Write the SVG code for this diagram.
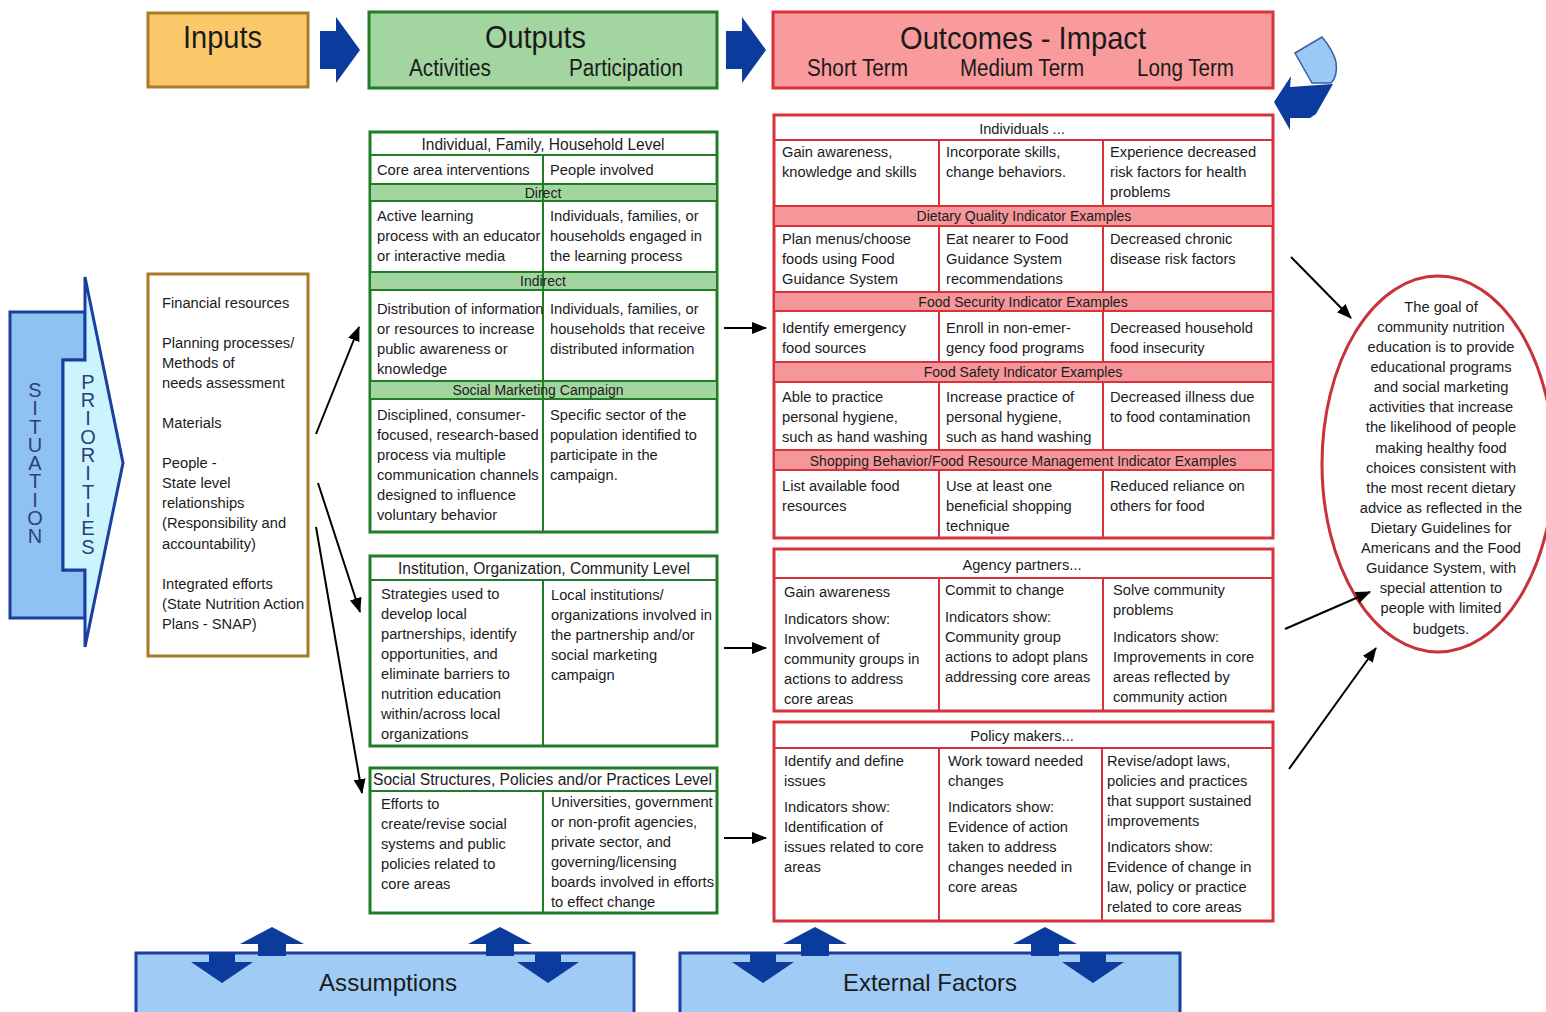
<svg xmlns="http://www.w3.org/2000/svg" width="1546" height="1012" viewBox="0 0 1546 1012">
<defs>
<style>
text{font-family:"Liberation Sans",Arial,sans-serif;fill:#1b1b1b}
.b{font-size:14.7px}
.c{text-anchor:middle}
.hd{font-size:32px}
.sh{font-size:23px}
.ti{font-size:16px}
.bd{font-size:14px}
.vert{font-size:20px;fill:#2f3f78;text-anchor:middle;writing-mode:vertical-rl;text-orientation:upright}
.gbox{fill:#fff;stroke:#1f7d24;stroke-width:3}
.gl{stroke:#1f7d24;stroke-width:2;fill:none}
.gband{fill:#a3d5a0;stroke:#1f7d24;stroke-width:2}
.rbox{fill:#fff;stroke:#d8323a;stroke-width:3}
.rl{stroke:#d8323a;stroke-width:2;fill:none}
.rband{fill:#f5969a;stroke:#d8323a;stroke-width:2}
.navy{fill:#0b3c9d}
.con{stroke:#000;stroke-width:2;fill:none;marker-end:url(#ah)}
</style>
<marker id="ah" markerUnits="userSpaceOnUse" markerWidth="16" markerHeight="14" refX="14" refY="6" orient="auto">
<path d="M0,0 L15,6 L0,12 Z" fill="#000"/>
</marker>
</defs>
<rect width="1546" height="1012" fill="#fff"/>

<!-- Header row -->
<g id="inputs-header">
<rect x="148" y="13" width="160" height="74" fill="#fbc86a" stroke="#a87a2a" stroke-width="3"/>
<text x="183" y="48" class="hd" textLength="79" lengthAdjust="spacingAndGlyphs">Inputs</text>
</g>
<g id="arrow-1">
<polygon class="navy" points="320,31 336,31 336,17 360,50 336,83 336,69 320,69"/>
</g>
<g id="outputs-header">
<rect x="369" y="12" width="348" height="76" fill="#a3d5a0" stroke="#1f7d24" stroke-width="3"/>
<text x="485" y="48" class="hd" textLength="101" lengthAdjust="spacingAndGlyphs">Outputs</text>
<text x="409" y="76" class="sh" textLength="82" lengthAdjust="spacingAndGlyphs">Activities</text>
<text x="569" y="76" class="sh" textLength="114" lengthAdjust="spacingAndGlyphs">Participation</text>
</g>
<g id="arrow-2">
<polygon class="navy" points="726,31 742,31 742,17 766,50 742,83 742,69 726,69"/>
</g>
<g id="outcomes-header">
<rect x="773" y="12" width="500" height="76" fill="#f99a9c" stroke="#d8323a" stroke-width="3"/>
<text x="900" y="49" class="hd" textLength="246" lengthAdjust="spacingAndGlyphs">Outcomes - Impact</text>
<text x="807" y="76" class="sh" textLength="101" lengthAdjust="spacingAndGlyphs">Short Term</text>
<text x="960" y="76" class="sh" textLength="124" lengthAdjust="spacingAndGlyphs">Medium Term</text>
<text x="1137" y="76" class="sh" textLength="97" lengthAdjust="spacingAndGlyphs">Long Term</text>
</g>
<g id="feedback-arrow">
<path d="M1295,53 L1322,37 Q1333,50 1336,62 Q1338,76 1331,83 L1312,83 Z" fill="#9bc9f5" stroke="#3a5e9e" stroke-width="1.5"/>
<polygon class="navy" points="1274,102 1291,76 1290,87 1333,84 1316,114 1310,118 1290,118 1290,130"/>
</g>

<!-- Situation / priorities -->
<g id="situation">
<polygon points="10,312 85,312 85,360 63,360 63,570 85,570 85,618 10,618" fill="#8ec2f2" stroke="#1b3f9e" stroke-width="3"/>
<polygon points="63,360 85,360 85,277 123,463 85,647 85,570 63,570" fill="#ccf4ff" stroke="#1b3f9e" stroke-width="3"/>
<text class="vert" x="35" y="463" textLength="168" lengthAdjust="spacing">SITUATION</text>
<text class="vert" x="88" y="464" textLength="187" lengthAdjust="spacing">PRIORITIES</text>
</g>

<!-- Inputs list -->
<g id="inputs-list">
<rect x="148" y="274" width="160" height="382" fill="#fff" stroke="#a87a2a" stroke-width="3"/>
<text class="b" x="162" y="308">Financial resources</text>
<text class="b" x="162" y="348">Planning processes/</text>
<text class="b" x="162" y="368">Methods of</text>
<text class="b" x="162" y="388">needs assessment</text>
<text class="b" x="162" y="428">Materials</text>
<text class="b" x="162" y="468">People -</text>
<text class="b" x="162" y="488">State level</text>
<text class="b" x="162" y="508">relationships</text>
<text class="b" x="162" y="528">(Responsibility and</text>
<text class="b" x="162" y="549">accountability)</text>
<text class="b" x="162" y="589">Integrated efforts</text>
<text class="b" x="162" y="609">(State Nutrition Action</text>
<text class="b" x="162" y="629">Plans - SNAP)</text>
</g>

<!-- Green table 1 -->
<g id="outputs-individual">
<rect class="gbox" x="370" y="132" width="347" height="400"/>
<line class="gl" x1="370" y1="155" x2="717" y2="155"/>
<rect class="gband" x="370" y="184" width="347" height="17"/>
<rect class="gband" x="370" y="272" width="347" height="18"/>
<rect class="gband" x="370" y="381" width="347" height="18"/>
<line class="gl" x1="543" y1="155" x2="543" y2="532"/>
<text class="ti c" x="543" y="150" textLength="243" lengthAdjust="spacingAndGlyphs">Individual, Family, Household Level</text>
<text class="b" x="377" y="175">Core area interventions</text>
<text class="b" x="550" y="175">People involved</text>
<text class="bd c" x="543" y="198">Direct</text>
<text class="b" x="377" y="221">Active learning</text>
<text class="b" x="377" y="241">process with an educator</text>
<text class="b" x="377" y="261">or interactive media</text>
<text class="b" x="550" y="221">Individuals, families, or</text>
<text class="b" x="550" y="241">households engaged in</text>
<text class="b" x="550" y="261">the learning process</text>
<text class="bd c" x="543" y="286">Indirect</text>
<text class="b" x="377" y="314">Distribution of information</text>
<text class="b" x="377" y="334">or resources to increase</text>
<text class="b" x="377" y="354">public awareness or</text>
<text class="b" x="377" y="374">knowledge</text>
<text class="b" x="550" y="314">Individuals, families, or</text>
<text class="b" x="550" y="334">households that receive</text>
<text class="b" x="550" y="354">distributed information</text>
<text class="bd c" x="538" y="395">Social Marketing Campaign</text>
<text class="b" x="377" y="420">Disciplined, consumer-</text>
<text class="b" x="377" y="440">focused, research-based</text>
<text class="b" x="377" y="460">process via multiple</text>
<text class="b" x="377" y="480">communication channels</text>
<text class="b" x="377" y="500">designed to influence</text>
<text class="b" x="377" y="520">voluntary behavior</text>
<text class="b" x="550" y="420">Specific sector of the</text>
<text class="b" x="550" y="440">population identified to</text>
<text class="b" x="550" y="460">participate in the</text>
<text class="b" x="550" y="480">campaign.</text>
</g>

<!-- Green table 2 -->
<g id="outputs-institution">
<rect class="gbox" x="370" y="556" width="347" height="190"/>
<line class="gl" x1="370" y1="580" x2="717" y2="580"/>
<line class="gl" x1="543" y1="580" x2="543" y2="746"/>
<text class="ti" x="398" y="574" textLength="292" lengthAdjust="spacingAndGlyphs">Institution, Organization, Community Level</text>
<text class="b" x="381" y="599">Strategies used to</text>
<text class="b" x="381" y="619">develop local</text>
<text class="b" x="381" y="639">partnerships, identify</text>
<text class="b" x="381" y="659">opportunities, and</text>
<text class="b" x="381" y="679">eliminate barriers to</text>
<text class="b" x="381" y="699">nutrition education</text>
<text class="b" x="381" y="719">within/across local</text>
<text class="b" x="381" y="739">organizations</text>
<text class="b" x="551" y="600">Local institutions/</text>
<text class="b" x="551" y="620">organizations involved in</text>
<text class="b" x="551" y="640">the partnership and/or</text>
<text class="b" x="551" y="660">social marketing</text>
<text class="b" x="551" y="680">campaign</text>
</g>

<!-- Green table 3 -->
<g id="outputs-social">
<rect class="gbox" x="370" y="768" width="347" height="145"/>
<line class="gl" x1="370" y1="791" x2="717" y2="791"/>
<line class="gl" x1="543" y1="791" x2="543" y2="913"/>
<text class="ti" x="373" y="785" textLength="339" lengthAdjust="spacingAndGlyphs">Social Structures, Policies and/or Practices Level</text>
<text class="b" x="381" y="809">Efforts to</text>
<text class="b" x="381" y="829">create/revise social</text>
<text class="b" x="381" y="849">systems and public</text>
<text class="b" x="381" y="869">policies related to</text>
<text class="b" x="381" y="889">core areas</text>
<text class="b" x="551" y="807">Universities, government</text>
<text class="b" x="551" y="827">or non-profit agencies,</text>
<text class="b" x="551" y="847">private sector, and</text>
<text class="b" x="551" y="867">governing/licensing</text>
<text class="b" x="551" y="887">boards involved in efforts</text>
<text class="b" x="551" y="907">to effect change</text>
</g>

<!-- Red table 1 -->
<g id="outcomes-individuals">
<rect class="rbox" x="774" y="115" width="499" height="423"/>
<line class="rl" x1="774" y1="140" x2="1273" y2="140"/>
<rect class="rband" x="774" y="206" width="499" height="20"/>
<rect class="rband" x="774" y="292" width="499" height="19"/>
<rect class="rband" x="774" y="362" width="499" height="20"/>
<rect class="rband" x="774" y="450" width="499" height="20"/>
<path class="rl" d="M939,140V206M1103,140V206M939,226V292M1103,226V292M939,311V362M1103,311V362M939,382V450M1103,382V450M939,470V538M1103,470V538"/>
<text class="b c" x="1022" y="134">Individuals ...</text>
<text class="b" x="782" y="157">Gain awareness,</text>
<text class="b" x="782" y="177">knowledge and skills</text>
<text class="b" x="946" y="157">Incorporate skills,</text>
<text class="b" x="946" y="177">change behaviors.</text>
<text class="b" x="1110" y="157">Experience decreased</text>
<text class="b" x="1110" y="177">risk factors for health</text>
<text class="b" x="1110" y="197">problems</text>
<text class="bd c" x="1024" y="221">Dietary Quality Indicator Examples</text>
<text class="b" x="782" y="244">Plan menus/choose</text>
<text class="b" x="782" y="264">foods using Food</text>
<text class="b" x="782" y="284">Guidance System</text>
<text class="b" x="946" y="244">Eat nearer to Food</text>
<text class="b" x="946" y="264">Guidance System</text>
<text class="b" x="946" y="284">recommendations</text>
<text class="b" x="1110" y="244">Decreased chronic</text>
<text class="b" x="1110" y="264">disease risk factors</text>
<text class="bd c" x="1023" y="307">Food Security Indicator Examples</text>
<text class="b" x="782" y="333">Identify emergency</text>
<text class="b" x="782" y="353">food sources</text>
<text class="b" x="946" y="333">Enroll in non-emer-</text>
<text class="b" x="946" y="353">gency food programs</text>
<text class="b" x="1110" y="333">Decreased household</text>
<text class="b" x="1110" y="353">food insecurity</text>
<text class="bd c" x="1023" y="377">Food Safety Indicator Examples</text>
<text class="b" x="782" y="402">Able to practice</text>
<text class="b" x="782" y="422">personal hygiene,</text>
<text class="b" x="782" y="442">such as hand washing</text>
<text class="b" x="946" y="402">Increase practice of</text>
<text class="b" x="946" y="422">personal hygiene,</text>
<text class="b" x="946" y="442">such as hand washing</text>
<text class="b" x="1110" y="402">Decreased illness due</text>
<text class="b" x="1110" y="422">to food contamination</text>
<text class="bd c" x="1023" y="466">Shopping Behavior/Food Resource Management Indicator Examples</text>
<text class="b" x="782" y="491">List available food</text>
<text class="b" x="782" y="511">resources</text>
<text class="b" x="946" y="491">Use at least one</text>
<text class="b" x="946" y="511">beneficial shopping</text>
<text class="b" x="946" y="531">technique</text>
<text class="b" x="1110" y="491">Reduced reliance on</text>
<text class="b" x="1110" y="511">others for food</text>
</g>

<!-- Red table 2 -->
<g id="outcomes-agency">
<rect class="rbox" x="774" y="549" width="499" height="162"/>
<line class="rl" x1="774" y1="578" x2="1273" y2="578"/>
<path class="rl" d="M939,578V711M1103,578V711"/>
<text class="b c" x="1022" y="570">Agency partners...</text>
<text class="b" x="784" y="597">Gain awareness</text>
<text class="b" x="784" y="624">Indicators show:</text>
<text class="b" x="784" y="644">Involvement of</text>
<text class="b" x="784" y="664">community groups in</text>
<text class="b" x="784" y="684">actions to address</text>
<text class="b" x="784" y="704">core areas</text>
<text class="b" x="945" y="595">Commit to change</text>
<text class="b" x="945" y="622">Indicators show:</text>
<text class="b" x="945" y="642">Community group</text>
<text class="b" x="945" y="662">actions to adopt plans</text>
<text class="b" x="945" y="682">addressing core areas</text>
<text class="b" x="1113" y="595">Solve community</text>
<text class="b" x="1113" y="615">problems</text>
<text class="b" x="1113" y="642">Indicators show:</text>
<text class="b" x="1113" y="662">Improvements in core</text>
<text class="b" x="1113" y="682">areas reflected by</text>
<text class="b" x="1113" y="702">community action</text>
</g>

<!-- Red table 3 -->
<g id="outcomes-policy">
<rect class="rbox" x="774" y="722" width="499" height="199"/>
<line class="rl" x1="774" y1="748" x2="1273" y2="748"/>
<path class="rl" d="M939,748V921M1102,748V921"/>
<text class="b c" x="1022" y="741">Policy makers...</text>
<text class="b" x="784" y="766">Identify and define</text>
<text class="b" x="784" y="786">issues</text>
<text class="b" x="784" y="812">Indicators show:</text>
<text class="b" x="784" y="832">Identification of</text>
<text class="b" x="784" y="852">issues related to core</text>
<text class="b" x="784" y="872">areas</text>
<text class="b" x="948" y="766">Work toward needed</text>
<text class="b" x="948" y="786">changes</text>
<text class="b" x="948" y="812">Indicators show:</text>
<text class="b" x="948" y="832">Evidence of action</text>
<text class="b" x="948" y="852">taken to address</text>
<text class="b" x="948" y="872">changes needed in</text>
<text class="b" x="948" y="892">core areas</text>
<text class="b" x="1107" y="766">Revise/adopt laws,</text>
<text class="b" x="1107" y="786">policies and practices</text>
<text class="b" x="1107" y="806">that support sustained</text>
<text class="b" x="1107" y="826">improvements</text>
<text class="b" x="1107" y="852">Indicators show:</text>
<text class="b" x="1107" y="872">Evidence of change in</text>
<text class="b" x="1107" y="892">law, policy or practice</text>
<text class="b" x="1107" y="912">related to core areas</text>
</g>

<!-- Goal ellipse -->
<g id="goal">
<ellipse cx="1438" cy="464" rx="116" ry="188" fill="#fff" stroke="#c8323a" stroke-width="3"/>
<text class="b c" x="1441" y="312">The goal of</text>
<text class="b c" x="1441" y="332">community nutrition</text>
<text class="b c" x="1441" y="352">education is to provide</text>
<text class="b c" x="1441" y="372">educational programs</text>
<text class="b c" x="1441" y="392">and social marketing</text>
<text class="b c" x="1441" y="412">activities that increase</text>
<text class="b c" x="1441" y="432">the likelihood of people</text>
<text class="b c" x="1441" y="453">making healthy food</text>
<text class="b c" x="1441" y="473">choices consistent with</text>
<text class="b c" x="1441" y="493">the most recent dietary</text>
<text class="b c" x="1441" y="513">advice as reflected in the</text>
<text class="b c" x="1441" y="533">Dietary Guidelines for</text>
<text class="b c" x="1441" y="553">Americans and the Food</text>
<text class="b c" x="1441" y="573">Guidance System, with</text>
<text class="b c" x="1441" y="593">special attention to</text>
<text class="b c" x="1441" y="613">people with limited</text>
<text class="b c" x="1441" y="634">budgets.</text>
</g>

<!-- Bottom boxes -->
<g id="assumptions">
<rect x="136" y="953" width="498" height="70" fill="#a0cbf5" stroke="#1b3f9e" stroke-width="3"/>
<text x="319" y="991" font-size="24" textLength="138" lengthAdjust="spacingAndGlyphs">Assumptions</text>
</g>
<g id="external-factors">
<rect x="680" y="953" width="500" height="70" fill="#a0cbf5" stroke="#1b3f9e" stroke-width="3"/>
<text x="843" y="991" font-size="24" textLength="174" lengthAdjust="spacingAndGlyphs">External Factors</text>
</g>
<g id="bottom-arrows" class="navy">
<path d="M272,927 L304,944 L286,944 L286,956 L258,956 L258,944 L240,944 Z"/>
<path d="M500,927 L532,944 L514,944 L514,956 L486,956 L486,944 L468,944 Z"/>
<path d="M815,927 L847,944 L829,944 L829,956 L801,956 L801,944 L783,944 Z"/>
<path d="M1045,927 L1077,944 L1059,944 L1059,956 L1031,956 L1031,944 L1013,944 Z"/>
<path d="M209,952 L235,952 L235,962 L253,962 L222,983 L191,962 L209,962 Z"/>
<path d="M535,952 L561,952 L561,962 L579,962 L548,983 L517,962 L535,962 Z"/>
<path d="M750,952 L776,952 L776,962 L794,962 L763,983 L732,962 L750,962 Z"/>
<path d="M1080,952 L1106,952 L1106,962 L1124,962 L1093,983 L1062,962 L1080,962 Z"/>
</g>

<!-- Connectors -->
<g id="connectors">
<line class="con" x1="316" y1="434" x2="359" y2="327"/>
<line class="con" x1="318" y1="483" x2="360" y2="612"/>
<line class="con" x1="316" y1="527" x2="362" y2="793"/>
<line class="con" x1="724" y1="328" x2="766" y2="328"/>
<line class="con" x1="724" y1="648" x2="766" y2="648"/>
<line class="con" x1="724" y1="838" x2="766" y2="838"/>
<line class="con" x1="1291" y1="257" x2="1351" y2="318"/>
<line class="con" x1="1285" y1="629" x2="1370" y2="592"/>
<line class="con" x1="1289" y1="769" x2="1376" y2="648"/>
</g>
</svg>
